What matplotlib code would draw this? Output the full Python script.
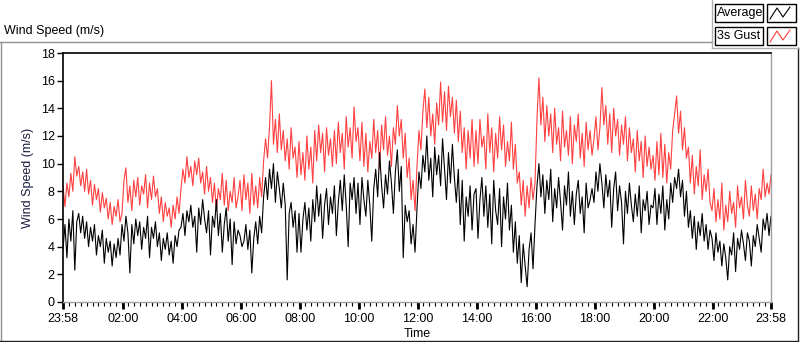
import matplotlib
matplotlib.use("Agg")
import matplotlib.pyplot as plt
from matplotlib.lines import Line2D
from matplotlib.patches import Rectangle
import numpy as np

# 4-minute samples from 23:58 to 23:58 next day
gust = [
    8.4, 6.9, 8.6, 7.6, 9.3, 8.0, 10.5, 9.1, 9.8, 8.4, 9.4, 8.0, 9.6, 7.8, 8.8, 7.0, 8.5, 7.4, 8.2, 6.5, 7.9, 6.8, 7.5, 6.0, 7.2, 5.6, 6.9, 6.2, 7.4, 5.8,
    6.4, 8.8, 9.7, 7.2, 8.4, 6.6, 8.8, 7.6, 9.0, 7.0, 8.4, 7.8, 9.2, 6.8, 8.6, 7.4, 9.1, 7.6, 8.2, 6.4, 7.6, 5.8, 7.2, 6.2, 6.8, 5.4, 7.0, 6.0, 7.6, 6.4,
    8.2, 9.6, 8.6, 10.5, 9.0, 9.8, 8.4, 10.2, 9.2, 10.4, 8.6, 9.4, 7.8, 9.8, 8.0, 9.0, 7.2, 8.6, 6.6, 8.2, 7.4, 9.3, 7.0, 8.8, 6.6, 8.0, 7.2, 9.0, 6.8, 7.6,
    8.8, 6.6, 9.2, 7.4, 8.6, 6.4, 9.3, 7.0, 8.4, 6.8, 9.0, 7.6, 10.2, 11.8, 10.4, 12.6, 16.0, 11.4, 13.2, 10.8, 13.6, 11.0, 12.4, 10.2, 11.8, 9.6, 12.6, 10.4, 11.2, 9.0,
    11.6, 9.2, 10.8, 8.8, 12.0, 9.6, 11.2, 8.6, 12.4, 10.2, 12.8, 10.8, 12.2, 9.4, 12.6, 10.6, 11.8, 9.8, 12.4, 10.0, 13.0, 10.8, 12.2, 9.6, 13.4, 11.2, 12.6, 10.4, 14.1, 11.6,
    12.6, 10.2, 13.0, 9.8, 12.2, 9.4, 11.6, 10.4, 13.2, 10.8, 12.4, 9.6, 12.8, 11.0, 13.4, 10.6, 12.0, 9.8, 12.6, 11.4, 14.2, 12.0, 13.2, 10.4, 12.2, 9.0, 10.4, 7.4, 8.8, 6.6,
    9.8, 12.4, 11.0, 13.8, 15.4, 12.6, 14.8, 12.0, 13.6, 11.4, 14.4, 12.8, 15.9, 13.0, 15.2, 12.4, 15.6, 13.4, 14.8, 12.2, 14.6, 11.6, 13.8, 10.8, 12.6, 9.6, 12.4, 10.4, 13.2, 9.8,
    12.4, 10.0, 13.2, 11.2, 12.0, 9.6, 13.6, 10.8, 12.6, 9.4, 12.2, 10.4, 13.4, 11.0, 12.8, 9.8, 11.6, 10.2, 13.0, 9.6, 11.4, 8.6, 9.4, 7.0, 8.8, 6.2, 8.4, 6.8, 9.0, 7.4,
    8.6, 13.2, 16.2, 12.8, 14.8, 11.6, 14.2, 12.0, 13.6, 10.8, 14.0, 11.4, 12.6, 10.2, 13.8, 11.2, 12.4, 10.6, 13.4, 10.0, 12.8, 11.6, 13.6, 10.4, 12.2, 9.8, 13.0, 11.0, 12.4, 10.6,
    11.8, 13.4, 11.0, 12.6, 15.5, 12.8, 14.2, 11.4, 13.6, 10.8, 14.0, 12.0, 13.2, 10.6, 12.8, 11.4, 13.4, 10.2, 12.6, 10.8, 11.8, 9.4, 12.4, 10.2, 11.6, 9.0, 12.0, 9.8, 11.2, 9.6,
    10.6, 8.8, 11.6, 9.2, 12.2, 9.0, 11.4, 8.6, 10.8, 9.6, 12.4, 13.6, 14.9, 12.2, 13.8, 11.0, 12.6, 10.4, 11.2, 8.6, 10.6, 7.8, 9.8, 8.4, 11.0, 7.4, 9.2, 8.0, 9.6, 7.2,
    6.6, 8.2, 5.8, 7.4, 6.0, 8.6, 5.2, 7.0, 5.8, 8.0, 6.4, 7.2, 5.4, 8.4, 6.8, 7.6, 6.0, 8.8, 7.0, 6.2, 8.4, 6.6, 7.8, 6.0, 8.2, 7.4, 9.6, 7.6, 8.6, 7.8, 9.2,
]

average = [
    3.8, 5.6, 3.2, 6.0, 4.4, 6.6, 2.3, 5.8, 6.4, 5.0, 6.2, 4.6, 5.8, 4.0, 5.4, 4.4, 5.6, 3.4, 4.8, 4.0, 5.2, 2.8, 4.6, 3.6, 4.4, 2.6, 4.2, 3.2, 4.6, 3.4,
    5.6, 4.4, 6.2, 5.0, 2.1, 5.6, 4.2, 6.0, 4.8, 5.8, 3.8, 5.4, 4.6, 6.2, 3.2, 5.4, 4.6, 5.8, 4.0, 5.0, 3.0, 4.6, 3.8, 5.0, 3.4, 4.4, 2.8, 4.8, 4.0, 5.2,
    5.4, 6.4, 4.8, 6.6, 5.8, 7.0, 5.4, 6.2, 3.6, 6.8, 5.6, 7.4, 6.0, 5.0, 6.6, 3.4, 6.2, 5.4, 7.4, 4.8, 6.4, 3.6, 5.6, 6.8, 4.4, 6.0, 2.7, 5.8, 4.2, 5.2,
    4.8, 4.0, 4.4, 5.6, 3.8, 5.2, 2.1, 4.6, 5.8, 4.2, 6.2, 5.0, 7.6, 9.0, 7.4, 9.6, 8.2, 10.0, 7.2, 9.4, 8.2, 6.8, 8.6, 7.0, 1.6, 6.4, 7.2, 5.4, 6.6, 3.6,
    6.4, 3.6, 6.0, 7.2, 5.2, 6.8, 4.4, 7.4, 5.8, 8.4, 6.2, 7.8, 4.6, 7.0, 8.2, 5.6, 7.6, 6.4, 8.4, 4.8, 7.2, 8.8, 6.6, 9.2, 7.0, 4.0, 8.6, 7.4, 9.0, 6.4,
    8.6, 5.6, 9.0, 7.4, 6.2, 8.8, 7.0, 4.4, 8.2, 9.6, 7.6, 10.8, 8.4, 6.8, 9.2, 7.8, 10.2, 8.6, 6.4, 9.4, 11.0, 8.0, 9.8, 3.2, 7.0, 5.8, 6.6, 4.2, 5.6, 3.6,
    6.8, 9.4, 8.2, 10.6, 9.4, 12.0, 8.8, 10.4, 7.6, 11.2, 9.2, 10.6, 8.4, 11.8, 9.6, 7.4, 10.8, 8.6, 11.4, 9.0, 7.2, 9.6, 5.6, 8.8, 4.4, 7.6, 6.2, 8.4, 5.2, 7.8,
    8.2, 4.6, 7.4, 9.0, 6.2, 8.4, 5.4, 7.8, 4.2, 8.8, 6.6, 5.6, 8.2, 4.0, 7.6, 6.0, 8.6, 5.2, 7.0, 3.6, 5.8, 2.8, 4.8, 1.4, 4.2, 2.6, 1.1, 3.8, 5.0, 2.4,
    5.6, 8.4, 10.0, 7.6, 9.2, 6.4, 8.8, 7.4, 9.6, 5.8, 8.2, 6.8, 9.0, 7.2, 5.2, 8.4, 7.0, 9.4, 6.2, 8.0, 5.6, 7.8, 8.8, 6.4, 7.6, 5.0, 8.6, 6.8, 7.4, 8.2,
    7.2, 9.4, 8.0, 10.0, 8.6, 6.8, 9.2, 7.6, 8.8, 5.4, 8.2, 9.4, 6.6, 8.4, 7.2, 4.2, 8.0, 6.4, 8.6, 7.0, 5.8, 7.8, 6.2, 8.4, 5.0, 7.4, 6.6, 8.0, 5.6, 7.0,
    6.8, 8.2, 5.6, 7.8, 6.4, 8.4, 5.2, 7.4, 6.0, 8.6, 7.2, 9.0, 8.2, 9.6, 7.6, 8.8, 6.2, 8.0, 5.4, 6.6, 4.6, 6.2, 3.8, 5.8, 4.8, 6.4, 4.4, 5.6, 3.8, 5.2,
    4.6, 3.0, 5.0, 3.6, 4.4, 2.6, 4.2, 3.2, 1.6, 4.0, 3.4, 5.0, 2.2, 4.6, 3.8, 5.2, 4.2, 3.0, 5.0, 4.4, 2.6, 4.8, 4.0, 5.6, 4.6, 3.6, 6.0, 5.2, 6.4, 4.8, 6.2,
]

# minutes since 23:58
tick_pos = [0, 122, 242, 362, 482, 602, 722, 842, 962, 1082, 1202, 1322, 1440]
tick_labels = ["23:58", "02:00", "04:00", "06:00", "08:00", "10:00", "12:00",
               "14:00", "16:00", "18:00", "20:00", "22:00", "23:58"]

plt.rcParams["font.family"] = ["Liberation Sans", "DejaVu Sans"]

W, H = 800, 342
fig = plt.figure(figsize=(W / 100, H / 100), dpi=100)
fig.patch.set_facecolor("white")


def fx(px):
    return px / W


def fy(py):
    return 1 - py / H


ax = fig.add_axes([fx(63), fy(302), fx(771) - fx(63), fy(53) - fy(302)])

t_gust = np.linspace(0, 1440, len(gust))
t_avg = np.linspace(0, 1440, len(average))
ax.plot(t_gust, gust, color="#ff4040", linewidth=0.8)
ax.plot(t_avg, average, color="black", linewidth=0.8)

ax.set_xlim(0, 1440)
ax.set_ylim(0, 18)
ax.set_yticks(range(0, 19, 2))
ax.set_xticks(tick_pos)
ax.set_xticklabels(tick_labels)
ax.set_xticks(np.arange(0, 1441, 12), minor=True)
ax.tick_params(axis="y", direction="out", length=4, width=1, labelsize=9, pad=2)
ax.tick_params(axis="x", which="major", direction="out", length=5, width=2, labelsize=9, pad=3)
ax.tick_params(axis="x", which="minor", direction="out", length=3, width=0.8)

for s in ["left", "top"]:
    ax.spines[s].set_color("black")
    ax.spines[s].set_linewidth(1.2)
for s in ["right", "bottom"]:
    ax.spines[s].set_color("#a0a0a0")
    ax.spines[s].set_linewidth(1.0)

ax.set_ylabel("Wind Speed (m/s)", fontsize=9, color="#1a1a40", labelpad=5)
ax.set_xlabel("Time", fontsize=9, labelpad=2)

# title
fig.text(fx(4), fy(31), "Wind Speed (m/s)", fontsize=9, va="center", ha="left")

# outer frame lines
frame = [
    ((0, 712), (42, 42), "#909090"),
    ((1, 1), (42, 342), "#909090"),
    ((0, 797), (340.5, 340.5), "#202020"),
    ((797.5, 797.5), (48, 341), "#202020"),
    ((712, 712), (0, 48), "#b0b0b0"),
    ((712, 800), (48, 48), "#b0b0b0"),
]
for xs, ys, c in frame:
    fig.add_artist(Line2D([fx(xs[0]), fx(xs[1])], [fy(ys[0]), fy(ys[1])],
                          color=c, linewidth=1, transform=fig.transFigure))

# legend
legend_items = [("Average", "black", 4), ("3s Gust", "#ff4040", 27)]
for name, col, top in legend_items:
    fig.add_artist(Rectangle((fx(715), fy(top + 18)), fx(48), 18 / H,
                             fill=False, edgecolor="black", linewidth=1,
                             transform=fig.transFigure))
    fig.text(fx(717), fy(top + 9), name, fontsize=9, va="center", ha="left")
    fig.add_artist(Rectangle((fx(767), fy(top + 18)), fx(29), 18 / H,
                             fill=False, edgecolor="black", linewidth=1,
                             transform=fig.transFigure))
    gx = [770, 777, 783, 790]
    gy = [top + 15, top + 4, top + 13, top + 3]
    fig.add_artist(Line2D([fx(v) for v in gx], [fy(v) for v in gy],
                          color=col, linewidth=0.8, transform=fig.transFigure))

fig.savefig("out.png", dpi=100)
